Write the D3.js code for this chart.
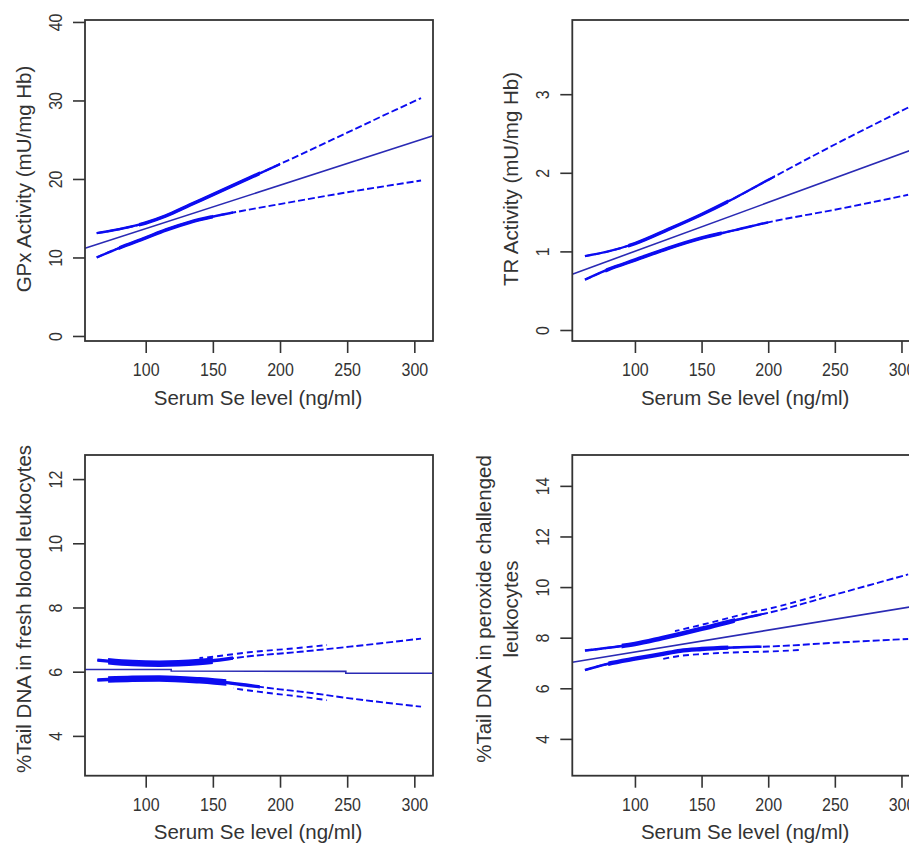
<!DOCTYPE html>
<html>
<head>
<meta charset="utf-8">
<script src="https://cdn.jsdelivr.net/npm/d3@7"></script>
<style>
  body { margin: 0; background: #fff; overflow: hidden; }
  svg { display: block; font-family: "Liberation Sans", Arial, sans-serif; }
</style>
</head>
<body>
<svg width="909" height="845"></svg>
<script>
// shared x axis
var xTicks = [100, 150, 200, 250, 300];
var xTitle = "Serum Se level (ng/ml)";

// GPx activity
var gpxTicks = [0, 10, 20, 30, 40];
var gpxFit = [[54.8, 11.17], [313.9, 25.5]];
var gpxUpper = [[63.5, 13.1], [80, 13.6], [100, 14.4], [115, 15.3], [133, 16.7], [150, 18.0], [177, 20.1], [200, 21.9], [250, 25.9], [286, 28.8], [305, 30.3]];
var gpxLower = [[63.5, 10.0], [80, 11.2], [100, 12.5], [115, 13.5], [133, 14.5], [150, 15.2], [177, 16.1], [200, 16.8], [250, 18.3], [305, 19.8]];

// TR activity
var trTicks = [0, 1, 2, 3];
var trFit = [[53, 0.71], [313.9, 2.33]];
var trUpper = [[62.5, 0.94], [80, 1.0], [100, 1.1], [125, 1.28], [150, 1.47], [175, 1.68], [200, 1.91], [250, 2.36], [305, 2.83]];
var trLower = [[62.5, 0.64], [80, 0.77], [100, 0.89], [125, 1.04], [150, 1.17], [175, 1.27], [200, 1.37], [250, 1.53], [305, 1.72]];

// %Tail DNA, fresh blood leukocytes
var freshTicks = [4, 6, 8, 10, 12];
var freshFit = [[54.8, 6.07], [119, 6.07], [119, 6.02], [249, 6.01], [249, 5.95], [313.9, 5.95]];
var freshUpper = [[64, 6.36], [90, 6.27], [110, 6.25], [140, 6.30], [177, 6.48], [215, 6.62], [252, 6.78], [305, 7.03]];
var freshLower = [[64, 5.74], [90, 5.78], [110, 5.79], [140, 5.73], [160, 5.66], [177, 5.57], [200, 5.45], [215, 5.38], [252, 5.17], [305, 4.91]];

// %Tail DNA, peroxide challenged leukocytes
var peroxTicks = [4, 6, 8, 10, 12, 14];
var peroxFit = [[53, 7.03], [313.9, 9.28]];
var peroxUpper = [[62.5, 7.49], [80, 7.6], [100, 7.75], [120, 7.98], [134, 8.15], [150, 8.35], [184, 8.8], [200, 8.98], [250, 9.7], [305, 10.5]];
var peroxLower = [[62.5, 6.72], [80, 6.97], [100, 7.17], [120, 7.35], [134, 7.48], [150, 7.55], [184, 7.63], [200, 7.65], [250, 7.8], [305, 7.95]];

var svg = d3.select("svg");

// dense: stacked solid strokes [from, to, width] where the curves pile up
var panels = [
  {box: [85, 20, 433, 341], xd: [54.8, 313.9], yd: [-0.64, 40.25], yTicks: gpxTicks, yTitle: ["GPx Activity (mU/mg Hb)"], titleY: 179,
   fit: gpxFit, ci: [gpxUpper, gpxLower],
   dense: [[[60, 200, 2.4], [95, 185, 3.6]], [[60, 165, 2.4], [80, 150, 3.6]]], dbl: null},
  {box: [572.3, 20, 920, 341], xd: [53, 313.9], yd: [-0.14, 3.944], yTicks: trTicks, yTitle: ["TR Activity (mU/mg Hb)"], titleY: 179,
   fit: trFit, ci: [trUpper, trLower],
   dense: [[[60, 205, 2.3], [95, 170, 3.4]], [[60, 200, 2.4], [78, 165, 3.6]]], dbl: null},
  {box: [85, 455, 433, 775.7], xd: [54.8, 313.9], yd: [2.76, 12.75], yTicks: freshTicks, yTitle: ["%Tail DNA in fresh blood leukocytes"], titleY: 609,
   fit: freshFit, ci: [freshUpper, freshLower],
   dense: [[[60, 165, 3.4], [72, 150, 6.5]], [[60, 185, 3.4], [72, 160, 6.5]]], dbl: [[140, 235, -4], [165, 235, 5]]},
  {box: [572.3, 455, 920, 775.7], xd: [53, 313.9], yd: [2.545, 15.22], yTicks: peroxTicks, yTitle: ["%Tail DNA in peroxide challenged", "leukocytes"], titleY: 609,
   fit: peroxFit, ci: [peroxUpper, peroxLower],
   dense: [[[60, 195, 2.6], [90, 175, 4.6]], [[60, 195, 2.6], [80, 170, 4.4]]], dbl: [[130, 240, -4], [120, 225, 5]]}
];

var ciColor = "#0c0cf0", fitColor = "#2a2ab4", ink = "#333";

panels.forEach(function(p, i) {
  var x = d3.scaleLinear().domain(p.xd).range([p.box[0], p.box[2]]);
  var y = d3.scaleLinear().domain(p.yd).range([p.box[3], p.box[1]]);
  var line = d3.line()
      .x(function(d) { return x(d[0]); })
      .y(function(d) { return y(d[1]); })
      .curve(d3.curveMonotoneX);
  var g = svg.append("g");
  var defs = g.append("defs");

  function clip(id, x0, x1) {
    defs.append("clipPath").attr("id", id)
      .append("rect")
        .attr("x", x(x0)).attr("y", p.box[1] - 20)
        .attr("width", x(x1) - x(x0)).attr("height", p.box[3] - p.box[1] + 40);
    return "url(#" + id + ")";
  }

  // confidence curves: thick where the points pile up, dashed further out
  p.ci.forEach(function(c, j) {
    g.append("path")
        .attr("d", line(c))
        .attr("fill", "none")
        .attr("stroke", ciColor)
        .attr("stroke-width", 1.9)
        .attr("stroke-dasharray", "7,3");
    p.dense[j].forEach(function(s, k) {
      g.append("path")
          .attr("d", line(c))
          .attr("fill", "none")
          .attr("stroke", ciColor)
          .attr("stroke-width", s[2])
          .attr("clip-path", clip("d" + i + j + k, s[0], s[1]));
    });
    if (p.dbl) {
      var b = p.dbl[j];
      g.append("path")
          .attr("d", line(c))
          .attr("transform", "translate(0," + b[2] + ")")
          .attr("fill", "none")
          .attr("stroke", ciColor)
          .attr("stroke-width", 1.9)
          .attr("stroke-dasharray", "6,4")
          .attr("clip-path", clip("b" + i + j, b[0], b[1]));
    }
  });

  g.append("path")
      .attr("d", d3.line().x(function(d) { return x(d[0]); }).y(function(d) { return y(d[1]); })(p.fit))
      .attr("fill", "none")
      .attr("stroke", fitColor)
      .attr("stroke-width", 1.6);

  // box
  g.append("rect")
      .attr("x", p.box[0]).attr("y", p.box[1])
      .attr("width", p.box[2] - p.box[0]).attr("height", p.box[3] - p.box[1])
      .attr("fill", "none").attr("stroke", ink).attr("stroke-width", 1.8);

  var gx = g.append("g")
      .attr("transform", "translate(0," + p.box[3] + ")")
      .call(d3.axisBottom(x).tickValues(xTicks).tickSize(12).tickFormat(d3.format("d")));
  gx.attr("font-size", null).attr("font-family", null);
  gx.select(".domain").remove();
  gx.selectAll(".tick line").attr("stroke", ink).attr("stroke-width", 1.6);
  gx.selectAll(".tick text")
      .attr("y", null).attr("dy", null)
      .attr("transform", "translate(0,35) scale(1,1.18)")
      .attr("font-size", 16).attr("fill", ink);

  var gy = g.append("g")
      .attr("transform", "translate(" + p.box[0] + ",0)")
      .call(d3.axisLeft(y).tickValues(p.yTicks).tickSize(12).tickFormat(d3.format("d")));
  gy.attr("font-size", null).attr("font-family", null);
  gy.select(".domain").remove();
  gy.selectAll(".tick line").attr("stroke", ink).attr("stroke-width", 1.6);
  gy.selectAll(".tick text")
      .attr("x", null).attr("dy", null)
      .attr("text-anchor", "middle")
      .attr("transform", "translate(-23,0) rotate(-90) scale(1,1.18)")
      .attr("font-size", 16).attr("fill", ink);

  g.append("text")
      .attr("transform", "translate(" + ((p.box[0] + p.box[2]) / 2 - 1) + "," + (p.box[3] + 63.6) + ")")
      .attr("text-anchor", "middle")
      .attr("font-size", 20.5).attr("fill", ink)
      .text(xTitle);

  p.yTitle.forEach(function(t, k) {
    var off = 54 + (p.yTitle.length - 1 - k) * 27;
    g.append("text")
        .attr("transform", "translate(" + (p.box[0] - off) + "," + p.titleY + ") rotate(-90)")
        .attr("text-anchor", "middle")
        .attr("font-size", 20.5).attr("fill", ink)
        .text(t);
  });
});
</script>
</body>
</html>
